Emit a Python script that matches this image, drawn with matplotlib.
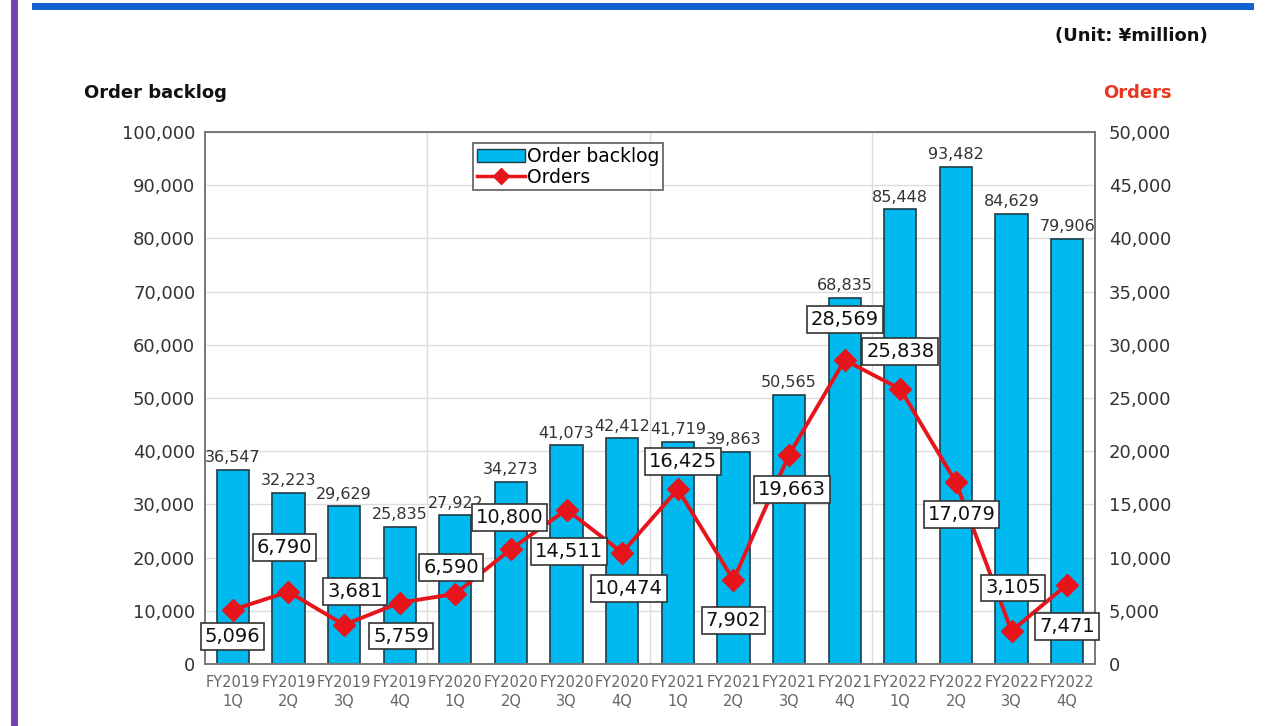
import matplotlib.pyplot as plt
from matplotlib.lines import Line2D
from matplotlib.patches import Patch

quarters = ["FY2019\n1Q", "FY2019\n2Q", "FY2019\n3Q", "FY2019\n4Q",
            "FY2020\n1Q", "FY2020\n2Q", "FY2020\n3Q", "FY2020\n4Q",
            "FY2021\n1Q", "FY2021\n2Q", "FY2021\n3Q", "FY2021\n4Q",
            "FY2022\n1Q", "FY2022\n2Q", "FY2022\n3Q", "FY2022\n4Q"]
backlog = [36547, 32223, 29629, 25835, 27922, 34273, 41073, 42412,
           41719, 39863, 50565, 68835, 85448, 93482, 84629, 79906]
orders = [5096, 6790, 3681, 5759, 6590, 10800, 14511, 10474,
          16425, 7902, 19663, 28569, 25838, 17079, 3105, 7471]

# label box offsets in points (x, y) relative to the marker
order_offsets = [(0, -19), (-3, 32), (8, 24), (1, -24), (-3, 19), (-1, 23), (2, -30), (5, -26),
                 (4, 20), (0, -29), (2, -25), (0, 29), (0, 27), (4, -23), (1, 31), (0, -30)]

bar_col = "#00b9ee"
red = "#e8141b"

fig = plt.figure(figsize=(12.7, 7.26), dpi=100)
ax = fig.add_axes([0.1614, 0.0854, 0.7008, 0.7328])
ax2 = ax.twinx()

x = list(range(len(quarters)))
ax.bar(x, backlog, width=0.58, color=bar_col, edgecolor="#1f3b48", linewidth=1.2, zorder=2)
for xi, v in zip(x, backlog):
    ax.text(xi, v + 900, f"{v:,}", ha="center", va="bottom", fontsize=11.5, color="#333333")

ax2.plot(x, orders, color=red, lw=2.8, marker="D", markersize=11, zorder=3)
for xi, v, off in zip(x, orders, order_offsets):
    ax2.annotate(f"{v:,}", (xi, v), xytext=off, textcoords="offset points",
                 ha="center", va="center", fontsize=14, color="#111111", zorder=5,
                 bbox=dict(boxstyle="square,pad=0.2", fc="white", ec="#333333", lw=1.2))

ax.set_xlim(-0.5, 15.5)
ax.set_ylim(0, 100000)
ax2.set_ylim(0, 50000)
ax.set_yticks(range(0, 100001, 10000))
ax2.set_yticks(range(0, 50001, 5000))
ax.set_yticklabels([f"{v:,}" for v in range(0, 100001, 10000)])
ax2.set_yticklabels([f"{v:,}" for v in range(0, 50001, 5000)])
ax.set_xticks(x)
ax.set_xticklabels(quarters, fontsize=10.5, color="#666666", linespacing=1.3)

ax.tick_params(axis="y", length=0, labelsize=13, colors="#333333", pad=7)
ax2.tick_params(axis="y", length=0, labelsize=13, colors="#333333", pad=10)
ax.tick_params(axis="x", length=0, pad=8)

ax.yaxis.grid(True, color="#dddddd", lw=1, zorder=0)
for b in [3.5, 7.5, 11.5]:
    ax.axvline(b, color="#dddddd", lw=1, zorder=0)
ax.set_axisbelow(True)
for a in (ax, ax2):
    for s in a.spines.values():
        s.set_color("#777777")
        s.set_linewidth(1.2)

handles = [Patch(facecolor=bar_col, edgecolor="#1f3b48", label="Order backlog"),
           Line2D([0], [0], color=red, lw=2.5, marker="D", markersize=8, label="Orders")]
leg = ax2.legend(handles=handles, loc="upper center", bbox_to_anchor=(0.408, 0.997),
                 fontsize=13.5, frameon=True, fancybox=False, edgecolor="#333333",
                 borderpad=0.2, handlelength=2.6, handletextpad=0.1, labelspacing=0.1)
leg.get_frame().set_linewidth(1.2)
leg.set_zorder(10)

fig.text(84 / 1270, 1 - 93 / 726, "Order backlog", fontsize=13, fontweight="bold",
         ha="left", va="center", color="#111111")
fig.text(1172 / 1270, 1 - 93 / 726, "Orders", fontsize=13, fontweight="bold",
         ha="right", va="center", color="#e8371f")
fig.text(1208 / 1270, 1 - 36 / 726, "(Unit: \u00a5million)", fontsize=13, fontweight="bold",
         ha="right", va="center", color="#111111")

# decorative page lines
fig.add_artist(Line2D([35 / 1270, 1250 / 1270], [1 - 6 / 726, 1 - 6 / 726],
                      color="#1560d0", lw=5, transform=fig.transFigure))
fig.add_artist(Line2D([14 / 1270, 14 / 1270], [0, 1],
                      color="#7a3fb0", lw=5, transform=fig.transFigure))

fig.savefig("out.png", dpi=100)
